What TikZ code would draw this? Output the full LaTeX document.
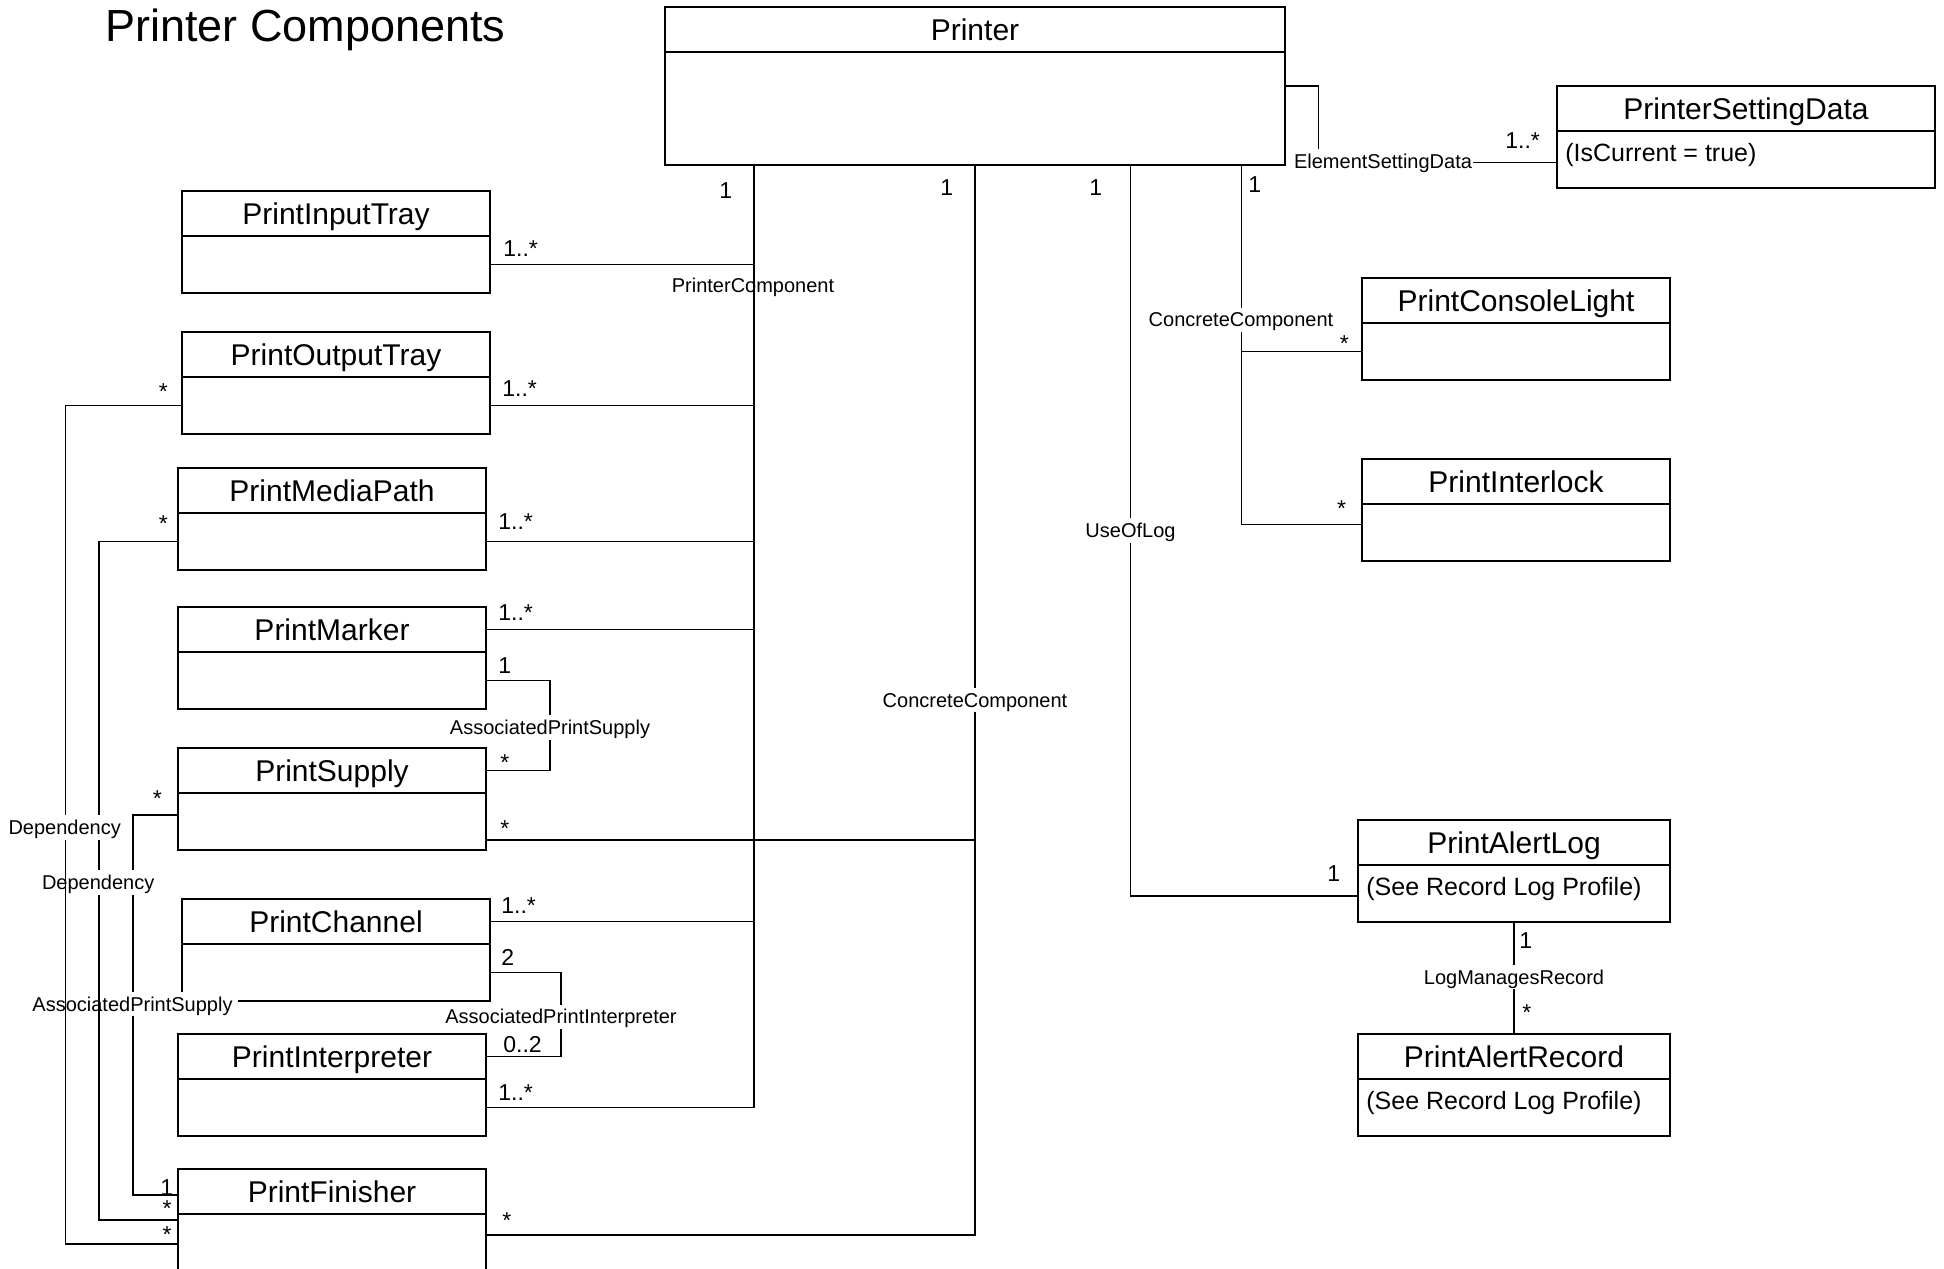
\documentclass[tikz,border=0pt]{standalone}
\usepackage{fontspec}
\setmainfont{Liberation Sans}
\tikzset{
  clshead/.style={draw, line width=0.7pt, anchor=north west, inner sep=0pt, outer sep=0pt,
    minimum height=22.5pt, font=\fontsize{15}{16}\selectfont,
    text height=10.7pt, text depth=0pt},
  clsbody/.style={draw, line width=0.7pt, anchor=north west, inner sep=0pt, outer sep=0pt},
  attr/.style={anchor=base west, inner sep=0pt, font=\fontsize{12.5}{14}\selectfont},
  mult/.style={anchor=base west, inner sep=0pt, font=\fontsize{11.5}{13}\selectfont},
  assoc/.style={inner sep=2.5pt, font=\fontsize{10}{11}\selectfont,
    text height=7.2pt, text depth=0pt},
  assocw/.style={assoc, fill=white},
  conn/.style={line width=0.55pt},
}
\begin{document}
\begin{tikzpicture}[x=0.5pt,y=-0.5pt]
\useasboundingbox (0,0) rectangle (1944,1269);
\node[anchor=base west, inner sep=0pt, font=\fontsize{22.5}{25}\selectfont] (title) at (105,41) {Printer Components};
% classes: name/left/top/width/body height/title
\foreach \cn/\cx/\cy/\cw/\cb/\ct in {printer/665/7/620/113/Printer,
    psd/1557/86/378/57/PrinterSettingData,
    intray/182/191/308/57/PrintInputTray,
    outtray/182/332/308/57/PrintOutputTray,
    mpath/178/468/308/57/PrintMediaPath,
    marker/178/607/308/57/PrintMarker,
    supply/178/748/308/57/PrintSupply,
    channel/182/899/308/57/PrintChannel,
    interp/178/1034/308/57/PrintInterpreter,
    finisher/178/1169/308/60/PrintFinisher,
    clight/1362/278/308/57/PrintConsoleLight,
    ilock/1362/459/308/57/PrintInterlock,
    alog/1358/820/312/57/PrintAlertLog,
    arec/1358/1034/312/57/PrintAlertRecord}{%
  \node[clshead, minimum width=\cw*0.5pt] (\cn) at (\cx,\cy) {\ct};
  \node[clsbody, minimum width=\cw*0.5pt, minimum height=\cb*0.5pt] (\cn-b) at (\cn.south west) {};
}
\node[attr] (psd-a) at ([xshift=4pt,yshift=-15pt]psd-b.north west) {(IsCurrent = true)};
\node[attr] (alog-a) at ([xshift=4pt,yshift=-15pt]alog-b.north west) {(See Record Log Profile)};
\node[attr] (arec-a) at ([xshift=4pt,yshift=-15pt]arec-b.north west) {(See Record Log Profile)};

% PrinterComponent
\coordinate (pc) at (754,0);
\draw[conn] (printer-b.south -| pc) -- (interp-b.east -| pc);
\foreach \cl in {intray-b,outtray-b,mpath-b,marker,channel,interp-b}
  \draw[conn] (\cl.east) -- (\cl.east -| pc);
\node[assoc] (lpc) at (753,285.3) {PrinterComponent};

% ConcreteComponent
\coordinate (cc) at (975,0);
\coordinate (ccs) at ([yshift=5pt]supply-b.south east);
\coordinate (ccf) at ([yshift=4.5pt]finisher-b.east);
\draw[conn] (printer-b.south -| cc) |- (ccf);
\draw[conn] (ccs) -- (ccs -| cc);
\node[assocw] (lcc) at (975,700) {ConcreteComponent};

\coordinate (rc) at (1241.5,0);
\draw[conn] (printer-b.south -| rc) |- ([yshift=4pt]ilock-b.west);
\draw[conn] (clight-b.west) -- (clight-b.west -| rc);
\node[assocw] (lrc) at (1241,319.7) {ConcreteComponent};

% UseOfLog
\coordinate (ul) at (1130.5,0);
\draw[conn] (printer-b.south -| ul) |- ([yshift=-1.25pt]alog-b.west);
\node[assocw] (lul) at (1130.5,530.3) {UseOfLog};

% ElementSettingData
\coordinate (es) at (1318.6,0);
\coordinate (esa) at ([yshift=11.25pt]printer-b.east);
\draw[conn] (esa) -- (esa -| es) |- ([yshift=-1.5pt]psd-b.west);
\node[assocw, inner xsep=0.3pt] (les) at (1383,161) {ElementSettingData};

\coordinate (aps) at (550,0);
\draw[conn] (marker-b.east) -- (marker-b.east -| aps) |- (supply.east);
\node[assocw] (laps) at (550,727.5) {AssociatedPrintSupply};

\coordinate (api) at (561,0);
\draw[conn] (channel-b.east) -- (channel-b.east -| api) |- (interp.east);
\node[assocw] (lapi) at (561,1016.7) {AssociatedPrintInterpreter};

\draw[conn] (alog-b.south) -- (arec.north);
\node[assocw] (llmr) at (1514,977) {LogManagesRecord};

% links into PrintFinisher
\coordinate (dc) at (133,0);
\coordinate (dcs) at ([yshift=3.25pt]supply-b.west);
\draw[conn] (dcs) -- (dcs -| dc) |- ([yshift=-1.75pt]finisher.west);
\node[assocw] (ldc) at (132.5,1004) {AssociatedPrintSupply};
\coordinate (db) at (99,0);
\draw[conn] (mpath-b.west) -- (mpath-b.west -| db) |- ([yshift=12pt]finisher-b.west);
\node[assocw] (ldb) at (98.2,882.3) {Dependency};
\coordinate (da) at (65.6,0);
\draw[conn] (outtray-b.west) -- (outtray-b.west -| da) |- (finisher-b.west);
\node[assocw] (lda) at (64.7,827.3) {Dependency};

% multiplicities
\foreach \mx/\my/\mt [count=\i] in {503/256/1..*, 502/396/1..*, 158.5/399.3/*,
    498/529.3/1..*, 158.5/531.6/*, 498/620/1..*, 498/673.3/1, 500/770/*,
    500/836.6/*, 152.5/806.6/*, 501/913.3/1..*, 501/965/2, 503/1052.7/0..2,
    498/1100.7/1..*, 160/1195/1, 162.3/1216.6/*, 162.3/1242.3/*, 502/1228.3/*,
    719/198.3/1, 940/195/1, 1089/195/1, 1248/192.3/1, 1339.5/351.6/*,
    1505/148.3/1..*, 1336.8/516.6/*, 1327/881.7/1, 1519/948.3/1, 1522/1020/*}
  \node[mult] (m\i) at (\mx,\my) {\mt};
\end{tikzpicture}
\end{document}
